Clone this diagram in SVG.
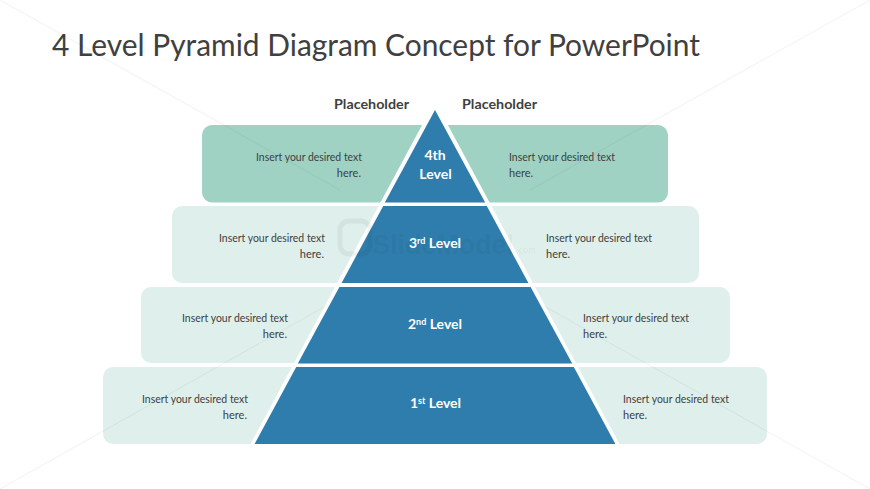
<svg xmlns="http://www.w3.org/2000/svg" width="870" height="489" viewBox="0 0 870 489">
<style>
.body{font-family:"Lato","Liberation Sans",sans-serif;font-size:11px;fill:#404040}
.ph{font-family:"Lato","Liberation Sans",sans-serif;font-size:14px;font-weight:700;fill:#404040}
.lv{font-family:"Lato","Liberation Sans",sans-serif;font-size:14px;font-weight:700;fill:#fff}
.sup{font-size:9px}
.r{text-anchor:end}
.m{text-anchor:middle}
.dark{fill:#a0d2c4}
.light{fill:#dff0ec}
.tri{fill:#2e7dac}
.wm{stroke:#000;stroke-opacity:.045;stroke-width:1.2;fill:none}
</style>
<rect width="870" height="489" fill="#fff"/>
<text x="52" y="56" font-family="Lato, Liberation Sans, sans-serif" font-size="30" fill="#404040" textLength="648" lengthAdjust="spacingAndGlyphs">4 Level Pyramid Diagram Concept for PowerPoint</text>
<g id="panels">
<rect class="dark" x="202" y="125" width="466" height="77.500" rx="10"/>
<rect class="light" x="172" y="206" width="527" height="77" rx="10"/>
<rect class="light" x="141" y="287" width="589" height="76" rx="10"/>
<rect class="light" x="103" y="367" width="664" height="77" rx="10"/>
<path d="M435 101L620 445H250Z" fill="#fff"/>
</g>
<g id="level4"><path class="tri" d="M435 110L485.200 202.500H384.800Z"/></g>
<g id="level3"><path class="tri" d="M383.200 206H486.800L528.400 283H341.600Z"/></g>
<g id="level2"><path class="tri" d="M339.400 287H530.600L572.200 363.500H297.800Z"/></g>
<g id="level1"><path class="tri" d="M296.200 367H573.800L615.400 444H254.600Z"/></g>
<g id="watermark">
<path class="wm" d="M0 0L340 190M870 0L530 190M0 489L326 306M870 489L544 306"/>
<rect x="340" y="221" width="30" height="33" rx="9" fill="none" stroke="#000" stroke-opacity=".05" stroke-width="5"/>
<text x="372" y="254" font-family="Liberation Sans, sans-serif" font-size="27" font-weight="700" fill="#000" fill-opacity=".055" textLength="142" lengthAdjust="spacingAndGlyphs">SlideModel</text>
<text x="516" y="253" font-family="Liberation Sans, sans-serif" font-size="9" fill="#000" fill-opacity=".08">.com</text>
</g>
<g id="labels">
<text class="lv m" x="435" y="160">4th</text><text class="lv m" x="435.500" y="179">Level</text>
<text class="lv m" x="435" y="248">3<tspan class="sup" dy="-4">rd</tspan><tspan dy="4"> Level</tspan></text>
<text class="lv m" x="435" y="329">2<tspan class="sup" dy="-4">nd</tspan><tspan dy="4"> Level</tspan></text>
<text class="lv m" x="435.500" y="408">1<tspan class="sup" dy="-4">st</tspan><tspan dy="4"> Level</tspan></text>
<text class="ph" x="334" y="109" textLength="75" lengthAdjust="spacingAndGlyphs">Placeholder</text>
<text class="ph" x="462" y="109" textLength="75" lengthAdjust="spacingAndGlyphs">Placeholder</text>
<text class="body" x="256" y="161" textLength="106" lengthAdjust="spacingAndGlyphs">Insert your desired text</text><text class="body r" x="361" y="177">here.</text>
<text class="body" x="509" y="161" textLength="106" lengthAdjust="spacingAndGlyphs">Insert your desired text</text><text class="body" x="509" y="177">here.</text>
<text class="body" x="219" y="242" textLength="106" lengthAdjust="spacingAndGlyphs">Insert your desired text</text><text class="body r" x="324" y="258">here.</text>
<text class="body" x="546" y="242" textLength="106" lengthAdjust="spacingAndGlyphs">Insert your desired text</text><text class="body" x="546" y="258">here.</text>
<text class="body" x="182" y="322" textLength="106" lengthAdjust="spacingAndGlyphs">Insert your desired text</text><text class="body r" x="287" y="338">here.</text>
<text class="body" x="583" y="322" textLength="106" lengthAdjust="spacingAndGlyphs">Insert your desired text</text><text class="body" x="583" y="338">here.</text>
<text class="body" x="142" y="403" textLength="106" lengthAdjust="spacingAndGlyphs">Insert your desired text</text><text class="body r" x="247" y="419">here.</text>
<text class="body" x="623" y="403" textLength="106" lengthAdjust="spacingAndGlyphs">Insert your desired text</text><text class="body" x="623" y="419">here.</text>
</g>
</svg>
